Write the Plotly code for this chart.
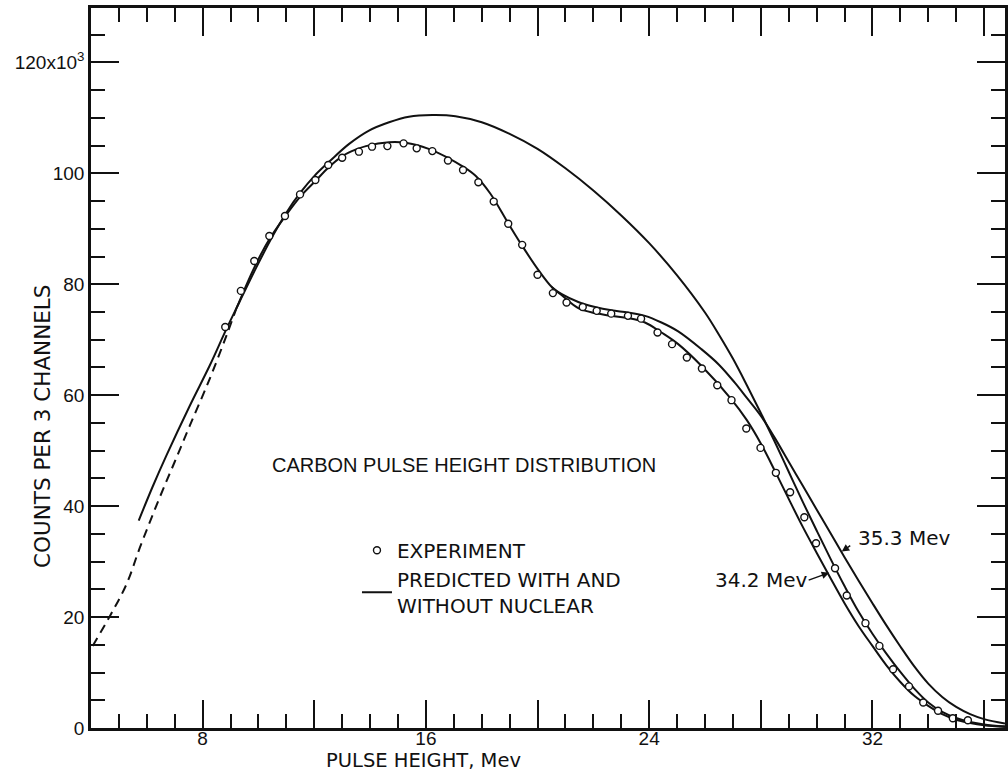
import plotly.graph_objects as go

# ---------------- data ----------------
# experimental points (pulse height in Mev, counts per 3 channels in units of 10^3)
exp_x = [8.81, 9.37, 9.85, 10.39, 10.95, 11.49, 12.04, 12.5, 13.0, 13.6, 14.07, 14.62, 15.2, 15.67,
         16.23, 16.79, 17.33, 17.88, 18.43, 18.95, 19.45, 20.0, 20.55, 21.04, 21.62, 22.12, 22.64,
         23.24, 23.71, 24.3, 24.82, 25.35, 25.89, 26.44, 26.95, 27.48, 27.99, 28.54, 29.05, 29.56,
         29.98, 30.66, 31.08, 31.75, 32.25, 32.74, 33.31, 33.82, 34.35, 34.88, 35.42]
exp_y = [72.3, 78.8, 84.2, 88.7, 92.3, 96.2, 98.8, 101.5, 102.8, 103.9, 104.8, 104.9, 105.4, 104.5,
         104.0, 102.3, 100.6, 98.4, 94.9, 90.9, 87.1, 81.7, 78.4, 76.7, 75.9, 75.2, 74.7,
         74.3, 73.8, 71.3, 69.2, 66.8, 64.8, 61.8, 59.1, 54.0, 50.5, 46.0, 42.5, 38.0,
         33.3, 28.8, 23.9, 18.9, 14.8, 10.6, 7.5, 4.6, 3.1, 1.75, 1.4]

# prediction without nuclear absorption
a_x = [5.71, 6.2, 6.7, 7.54, 8.25, 8.85, 9.32, 9.92, 10.5, 11.0, 11.5, 12.0, 12.6, 13.25, 13.96,
       14.68, 15.39, 16.23, 17.06, 18.0, 19.0, 20.0, 21.0, 22.0, 23.0, 24.0, 25.0, 26.0, 26.5, 27.0,
       27.5, 28.0, 28.5, 29.0, 29.5, 30.0, 30.5, 31.0, 31.5, 32.0, 32.5, 33.0, 33.5, 34.0, 34.5,
       35.0, 35.5, 36.0, 36.75]
a_y = [37.4, 43.4, 49.1, 58.1, 65.3, 71.9, 76.8, 83.0, 88.6, 92.9, 96.5, 99.5, 102.4, 105.3, 107.7,
       109.2, 110.2, 110.5, 110.3, 109.2, 107.1, 104.4, 100.9, 96.9, 92.4, 87.4, 81.6, 74.9, 70.9, 66.6,
       61.8, 56.8, 51.6, 46.2, 40.8, 35.6, 30.5, 25.6, 21.0, 17.0, 13.4, 10.1, 7.1, 4.6, 2.9,
       1.8, 1.1, 0.65, 0.3]

# prediction with nuclear absorption, 34.2 Mev (dashed extrapolation + solid part)
b_dash_x = [4.06, 4.68, 5.27, 5.75, 6.44, 7.0, 7.54, 8.25, 8.85, 9.2]
b_dash_y = [14.8, 20.2, 25.9, 32.5, 41.3, 48.0, 54.5, 62.9, 70.7, 75.5]
b_x = [9.2, 9.85, 10.4, 10.98, 11.5, 12.06, 12.5, 13.01, 13.5, 13.85, 14.68, 15.27, 16.1, 16.82,
       17.3, 17.77, 18.3, 18.96, 19.44, 20.04, 20.51, 20.87, 21.46, 22.06, 22.65, 23.25, 23.85,
       24.44, 25.04, 25.87, 26.94, 27.5, 28.0, 28.5, 29.0, 29.5, 30.0, 30.5, 31.0, 31.5, 32.0,
       32.5, 33.0, 33.5, 34.0, 34.5, 35.0, 35.5, 36.0, 36.75]
b_y = [75.5, 83.0, 88.2, 92.4, 95.8, 98.7, 101.0, 103.1, 104.3, 104.9, 105.6, 105.5, 104.4, 102.7,
       101.3, 99.6, 96.4, 90.9, 87.0, 82.5, 79.5, 78.0, 75.7, 74.8, 74.3, 73.9, 73.1,
       71.3, 69.2, 65.3, 59.3, 55.5, 51.3, 46.4, 41.3, 36.3, 31.6, 27.0, 22.5, 18.4, 14.8,
       11.3, 8.3, 5.8, 4.0, 2.5, 1.5, 0.9, 0.5, 0.2]

# prediction with nuclear absorption, 35.3 Mev
c_x = [20.5, 20.87, 21.46, 22.06, 22.65, 23.25, 23.85, 24.44, 25.04, 25.87, 26.5, 27.06, 27.5, 28.01,
       28.5, 29.0, 29.5, 30.0, 30.5, 31.0, 31.5, 32.0, 32.5, 33.0, 33.5, 34.0, 34.5, 35.0, 35.5,
       36.0, 36.75]
c_y = [79.5, 78.2, 76.8, 75.9, 75.3, 74.9, 74.3, 73.1, 71.5, 68.3, 65.5, 62.3, 59.5, 56.2,
       52.3, 48.0, 43.7, 39.4, 35.1, 30.8, 26.6, 22.5, 18.5, 14.7, 11.1, 8.0, 5.6, 3.8, 2.5,
       1.6, 0.8]

x_major = [4, 8, 12, 16, 20, 24, 28, 32, 36]
x_major_text = ["", "8", "", "16", "", "24", "", "32", ""]
y_major = [0, 20, 40, 60, 80, 100, 120]
y_major_text = ["0", "20", "40", "60", "80", "100", "120x10<sup>3</sup>"]

FONT = "Liberation Sans, Arial, sans-serif"
WIDE = "DejaVu Sans, Verdana, sans-serif"
INK = "#111111"

fig = go.Figure()
line_style = dict(color=INK, width=2)
fig.add_trace(go.Scatter(x=b_dash_x, y=b_dash_y, mode="lines", line=dict(color=INK, width=2, dash="9px,6px"),
                         line_shape="spline", showlegend=False, hoverinfo="skip"))
fig.add_trace(go.Scatter(x=b_x, y=b_y, mode="lines", line=line_style, line_shape="spline",
                         showlegend=False, name="34.2 Mev"))
fig.add_trace(go.Scatter(x=c_x, y=c_y, mode="lines", line=line_style, line_shape="spline",
                         showlegend=False, name="35.3 Mev"))
fig.add_trace(go.Scatter(x=a_x, y=a_y, mode="lines", line=line_style, line_shape="spline",
                         name="PREDICTED WITH AND<br>WITHOUT NUCLEAR", showlegend=True))
fig.add_trace(go.Scatter(x=exp_x, y=exp_y, mode="markers", name="EXPERIMENT",
                         marker=dict(symbol="circle", size=7, color="white",
                                     line=dict(color=INK, width=1.4)), showlegend=True))

axis_common = dict(showline=True, linewidth=2.5, linecolor=INK, mirror="ticks", ticks="inside",
                   ticklen=28, tickwidth=2, tickcolor=INK, showgrid=False, zeroline=False,
                   tickfont=dict(family=FONT, size=19, color=INK))
fig.update_xaxes(range=[4, 36.75], tickmode="array", tickvals=x_major, ticktext=x_major_text,
                 ticklabelstandoff=-9,
                 minor=dict(dtick=1, tick0=0, ticks="inside", ticklen=14, tickwidth=1.8, tickcolor=INK),
                 **axis_common)
fig.update_yaxes(range=[0, 129.8], tickmode="array", tickvals=y_major, ticktext=y_major_text,
                 minor=dict(dtick=5, tick0=0, ticks="inside", ticklen=14, tickwidth=1.8, tickcolor=INK),
                 **axis_common)

def note(text, x, y, size, family=WIDE, angle=0):
    return dict(text=text, x=x, y=y, xref="paper", yref="paper", xanchor="center", yanchor="middle",
                textangle=angle, showarrow=False, font=dict(family=family, size=size, color=INK))

annotations = [
    note("CARBON PULSE HEIGHT DISTRIBUTION", 0.408, 0.365, 20, family=FONT),
    note("PULSE HEIGHT, Mev", 0.364, -0.0445, 19.5),
    note("COUNTS PER 3 CHANNELS", -0.0529, 0.419, 21.5, angle=-90),
    note("35.3 Mev", 0.889, 0.264, 20),
    note("34.2 Mev", 0.733, 0.2056, 20),
    dict(text="", x=30.9, y=31.8, xref="x", yref="y", showarrow=True, arrowhead=2, arrowsize=1,
         arrowwidth=1.5, arrowcolor=INK, ax=10, ay=-7),
    dict(text="", x=30.45, y=28.0, xref="x", yref="y", showarrow=True, arrowhead=2, arrowsize=1,
         arrowwidth=1.5, arrowcolor=INK, ax=-22, ay=8),
]

fig.update_layout(
    width=1008, height=771,
    margin=dict(l=91, r=0, t=8, b=43),
    paper_bgcolor="white", plot_bgcolor="white",
    font=dict(family=FONT, color=INK),
    annotations=annotations,
    legend=dict(x=0.291, y=0.274, xanchor="left", yanchor="top", bgcolor="rgba(0,0,0,0)",
                font=dict(family=WIDE, size=20, color=INK), traceorder="reversed",
                itemwidth=30, tracegroupgap=0),
)

fig.write_html("out.html")
